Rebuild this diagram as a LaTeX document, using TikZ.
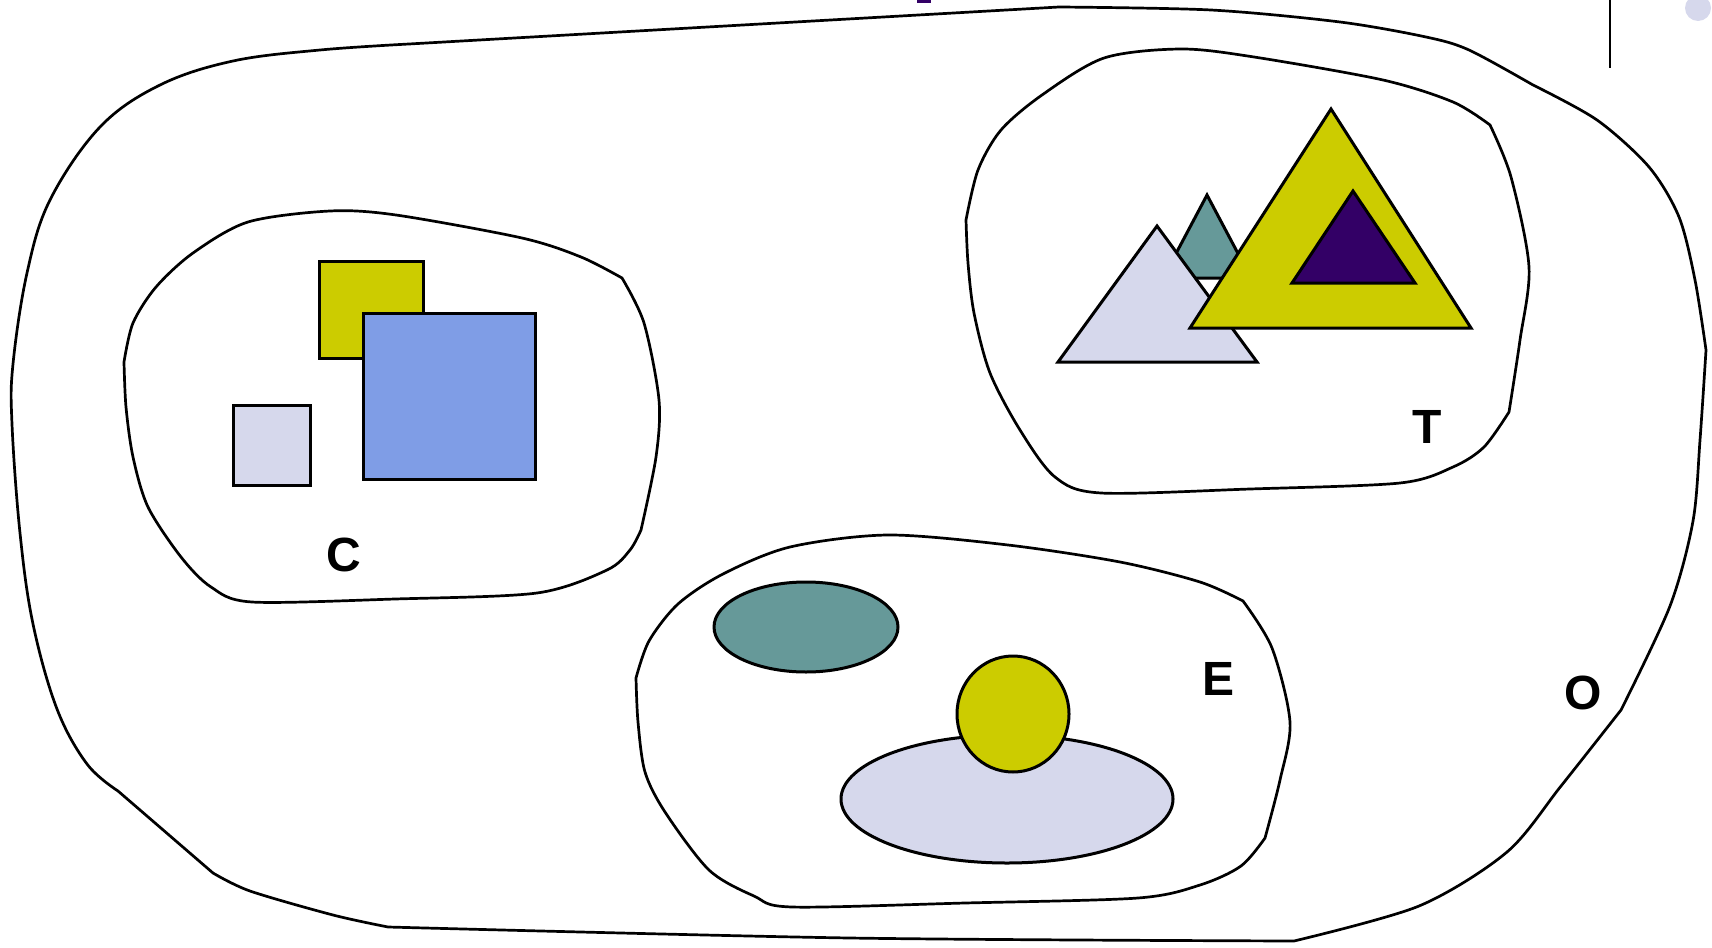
\documentclass[tikz,border=0pt]{standalone}
\usepackage{fontspec}
\setmainfont{Liberation Sans}
\definecolor{yel}{HTML}{CCCC00}
\definecolor{blu}{HTML}{7F9DE6}
\definecolor{lav}{HTML}{D6D8EC}
\definecolor{tea}{HTML}{669999}
\definecolor{pur}{HTML}{330066}
\begin{document}
\begin{tikzpicture}[x=1pt,y=-1pt,
  blob/.style={draw=black, line width=2.7pt, line join=round},
  shp/.style={draw=black, line width=3pt, line join=miter},
  lbl/.style={font=\fontsize{48}{48}\selectfont\bfseries, inner sep=0pt}]
\useasboundingbox (0,0) rectangle (1712,947);
% outer blob O
\draw[blob] plot[smooth, tension=0.6] coordinates {(118,791) (87,764) (57,709) (33,624) (20,533) (12,424) (13,364) (27,273) (50,200) (100,127) (160,85) (233,61) (320,50) (409,44)}
  -- (1059,7)
  -- plot[smooth] coordinates {(1059,7) (1211,10) (1340,22) (1426,37) (1469,50) (1533,85)}
  -- plot[smooth] coordinates {(1533,85) (1597,120) (1649,167) (1679,217) (1695,280) (1706,350)}
  -- plot[smooth] coordinates {(1706,350) (1700,440) (1693,521) (1670,606) (1621,710)}
  -- plot[smooth] coordinates {(1621,710) (1561,786) (1507,852) (1419,906) (1294,941)}
  -- plot[smooth] coordinates {(1294,941) (850,938) (388,927)}
  -- plot[smooth] coordinates {(388,927) (333,915) (250,891) (213,873)}
  -- (118,791) -- cycle;
% blob C
\draw[blob] plot[smooth] coordinates {(124,362) (133,323) (156,287) (193,253) (248,222) (330,211) (396,215) (522,238) (581,257) (622,278)}
  -- plot[smooth] coordinates {(622,278) (644,323) (659,400) (656,457) (641,530)}
  -- plot[smooth] coordinates {(641,530) (630,550) (607,570) (537,593) (395,599) (252,602) (211,587) (181,557) (148,507) (133,457) (126,407) (124,362)}
  -- cycle;
% blob T
\draw[blob] plot[smooth] coordinates {(966,220) (978,170) (1001,130) (1042,95) (1104,58) (1181,49) (1254,57) (1383,80) (1453,102) (1490,125)}
  -- plot[smooth] coordinates {(1490,125) (1511,177) (1529,267) (1520,340) (1509,412)}
  -- plot[smooth] coordinates {(1509,412) (1484,447) (1453,467) (1400,483) (1250,489) (1101,493) (1055,477) (1020,430) (990,373) (974,313) (968,263) (966,220)}
  -- cycle;
% blob E
\draw[blob] plot[smooth] coordinates {(636,678) (649,641) (678,604) (723,574) (790,547) (888,535) (1008,545) (1120,562) (1200,582) (1243,601)}
  -- plot[smooth] coordinates {(1243,601) (1272,648) (1290,722) (1280,780) (1265,838)}
  -- plot[smooth] coordinates {(1265,838) (1241,866) (1200,885) (1138,898) (965,903) (792,907) (754,896) (709,870) (665,812) (645,772) (638,722) (636,678)}
  -- cycle;
% C contents
\draw[shp, fill=yel] (319,261) rectangle (423,358);
\draw[shp, fill=blu] (363,313) rectangle (535,479);
\draw[shp, fill=lav] (233,405) rectangle (310,485);
% T contents
\draw[shp, fill=tea] (1207,195) -- (1251,278) -- (1163,278) -- cycle;
\draw[shp, fill=lav] (1157,226) -- (1257,362) -- (1058,362) -- cycle;
\draw[shp, fill=yel] (1331,109) -- (1471,328) -- (1190,328) -- cycle;
\draw[shp, fill=pur] (1353,191) -- (1415,283) -- (1292,283) -- cycle;
% E contents
\draw[shp, fill=tea] (806,627) ellipse [x radius=92, y radius=45];
\draw[shp, fill=lav] (1007,799) ellipse [x radius=166, y radius=64];
\draw[shp, fill=yel] (1013,714) ellipse [x radius=56, y radius=58];
% labels
\node[lbl] (labC) at (344,555) {C};
\node[lbl] (labT) at (1427,427) {T};
\node[lbl] (labE) at (1218,679) {E};
\node[lbl] (labO) at (1583,693) {O};
% top edge fragments
\fill[pur] (917,0) rectangle (931,3);
\draw[line width=2.4pt] (1610,0) -- (1610,68);
\fill[lav] (1698,8) circle (13);
\end{tikzpicture}
\end{document}
